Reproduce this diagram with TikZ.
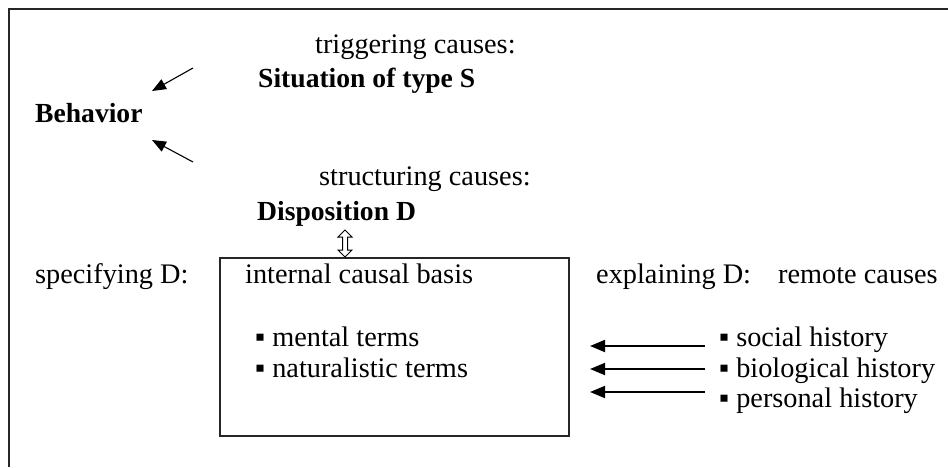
\documentclass[tikz,border=0pt]{standalone}
\usepackage{fontspec}
\setmainfont{Liberation Serif}
\usetikzlibrary{arrows.meta}
\begin{document}
\begin{tikzpicture}[x=1pt,y=-1pt,
  txt/.style={inner sep=0pt, anchor=base west, font=\fontsize{28.3}{33}\selectfont},
  btxt/.style={inner sep=0pt, anchor=base west, font=\fontsize{27.6}{33}\selectfont\bfseries},
  darr/.style={line width=1.1pt, -{Triangle[length=14pt,width=11pt]}},
  harr/.style={line width=1.8pt, -{Triangle[length=15pt,width=12pt]}},
  frame/.style={line width=2pt, black!85}]
\useasboundingbox (0,0) rectangle (948,467);
\draw[frame] (948,9) -- (9,9) -- (9,467);
% top part
\node[txt] (trig) at (315,53) {triggering causes:};
\node[btxt] (sit) at (258,87) {Situation of type S};
\node[btxt] (beh) at (35,122) {Behavior};
\coordinate (a1s) at (193,68); \coordinate (a1e) at (152,91);
\coordinate (a2s) at (193,162); \coordinate (a2e) at (152,140);
\draw[darr] (a1s) -- (a1e);
\draw[darr] (a2s) -- (a2e);
\node[txt] (struc) at (319,185) {structuring causes:};
\node[btxt] (disp) at (257,220) {Disposition D};
% box
\node[draw, frame, minimum width=349pt, minimum height=178pt, anchor=north west, inner sep=0pt] (box) at (219,257) {};
% open double arrow
\coordinate (dd) at (345,230);
\draw[line width=1pt, fill=white] (dd) -- ++(7,7) -- ++(-4.5,0) -- ++(0,13) -- ++(4.5,0) -- ++(-7,7) -- ++(-7,-7) -- ++(4.5,0) -- ++(0,-13) -- ++(-4.5,0) -- cycle;
% labels row
\node[txt] (spec) at (35,283) {specifying D:};
\node[txt] (icb) at (245,283) {internal causal basis};
\node[txt] (expl) at (596,283) {explaining D:};
\node[txt] (remote) at (778,283) {remote causes};
\node[txt] (ment) at (255,346) {▪ mental terms};
\node[txt] (nat) at (255,377) {▪ naturalistic terms};
\node[txt] (soc) at (719,346) {▪ social history};
\node[txt] (bio) at (719,377) {▪ biological history};
\node[txt] (pers) at (719,407) {▪ personal history};
\coordinate (r1s) at (705,346); \coordinate (r1e) at (590,346);
\coordinate (r2s) at (705,369); \coordinate (r2e) at (590,369);
\coordinate (r3s) at (705,392); \coordinate (r3e) at (590,392);
\draw[harr] (r1s) -- (r1e);
\draw[harr] (r2s) -- (r2e);
\draw[harr] (r3s) -- (r3e);
\end{tikzpicture}
\end{document}
